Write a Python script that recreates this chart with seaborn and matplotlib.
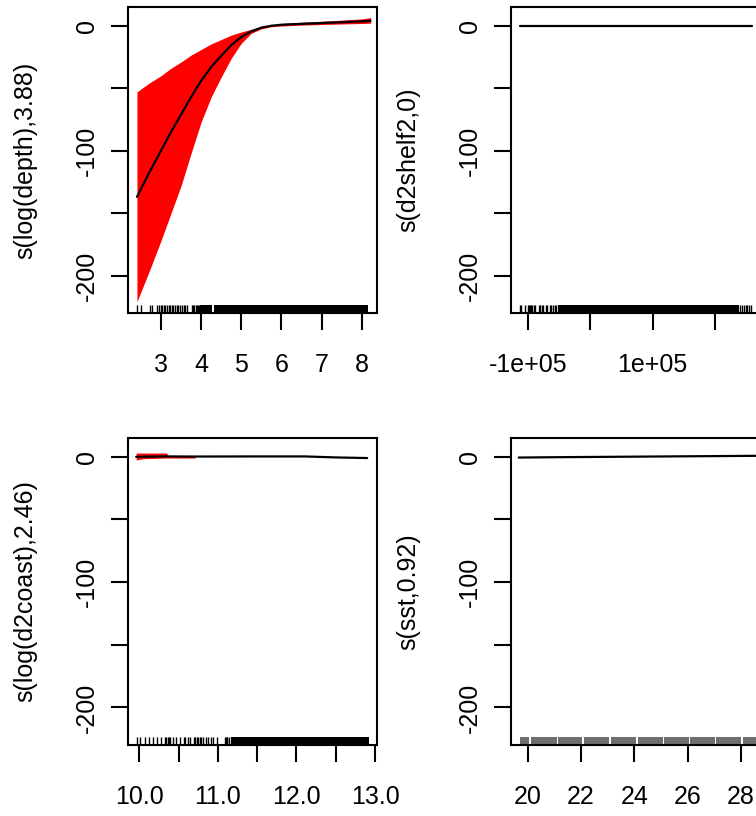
import matplotlib
matplotlib.use("Agg")
import matplotlib.pyplot as plt
import seaborn as sns

# ---------------------------
# Configuration
# ---------------------------
sns.set_theme(style="white")
plt.rcParams["font.family"] = ["Liberation Sans", "DejaVu Sans"]

FIG_W, FIG_H = 756, 816
FONT = 18
RUG_H = 0.027

# ---------------------------
# Data
# ---------------------------
# s(log(depth), 3.88)
depth_x = [2.40, 2.70, 3.00, 3.25, 3.50, 3.75, 4.00, 4.25, 4.50, 4.75,
           5.00, 5.25, 5.50, 5.75, 6.00, 6.50, 7.00, 7.50, 8.00, 8.22]
depth_fit = [-137, -118, -100, -85, -71, -57, -44, -33, -24, -15.5,
             -9, -4.5, -1.5, 0.0, 0.8, 1.5, 2.2, 2.8, 3.5, 4.0]
depth_upper = [-53, -46, -40, -34, -29, -23.5, -19, -14.5, -11, -7.5,
               -5, -2.8, -0.8, 0.8, 1.8, 2.8, 3.5, 4.5, 5.5, 6.5]
depth_lower = [-221, -197, -172, -150, -128, -102, -77, -57, -41, -26,
               -14, -6, -2.5, -0.8, -0.2, 0.5, 1.0, 1.4, 1.8, 2.0]
depth_rug = [2.41, 2.49, 2.73, 2.78, 2.90, 2.95, 2.99, 3.03, 3.07, 3.11, 3.15,
             3.19, 3.23, 3.27, 3.31, 3.35, 3.39, 3.43, 3.47, 3.51, 3.56, 3.60,
             3.64, 3.77, 3.80, 3.83, 3.86, 3.89, 3.92, 3.95]
depth_rug_solid = [(3.98, 4.28), (4.31, 8.16)]

# s(d2shelf2, 0)
shelf_x = [-1.13e5, 2.60e5]
shelf_fit = [0.0, 0.0]
shelf_rug = [-1.117e5, -1.101e5, -1.048e5, -0.995e5, -0.979e5, -0.957e5,
             -0.941e5, -0.925e5, -0.904e5, -0.888e5, -0.819e5, -0.797e5,
             -0.776e5, -0.755e5, -0.712e5, -0.691e5, -0.648e5, -0.621e5,
             -0.595e5, -0.568e5, -0.541e5, 2.40e5, 2.43e5, 2.47e5, 2.49e5,
             2.52e5, 2.55e5, 2.58e5]
shelf_rug_solid = [(-0.52e5, 2.38e5)]

# s(log(d2coast), 2.46)
coast_x = [9.96, 10.35, 10.71, 11.50, 12.10, 12.50, 12.90]
coast_fit = [0.0, 0.3, 0.2, 0.3, 0.3, -0.5, -1.0]
coast_band_x = [9.96, 10.05, 10.35, 10.36, 10.71]
coast_upper = [3.0, 3.0, 3.0, 1.0, 1.0]
coast_lower = [-2.5, -1.5, -1.0, -1.0, -1.0]
coast_rug = [9.969, 10.012, 10.067, 10.122, 10.173, 10.224, 10.280, 10.331,
             10.345, 10.360, 10.373, 10.386, 10.429, 10.472, 10.514, 10.565,
             10.587, 10.620, 10.651, 10.69, 10.71, 10.73, 10.75, 10.77, 10.79,
             10.81, 10.846, 10.876, 10.906, 10.939, 10.983, 11.09, 11.10,
             11.11, 11.12, 11.144]
coast_rug_solid = [(11.165, 12.92)]

# s(sst, 0.92)
sst_x = [19.66, 21.20, 28.70]
sst_fit = [-0.6, -0.3, 0.8]
sst_rug_bands = [(19.70, 20.05), (20.12, 21.08), (21.13, 22.05), (22.10, 23.06),
                 (23.11, 24.07), (24.12, 25.07), (25.12, 26.03), (26.08, 27.01),
                 (27.06, 28.01), (28.06, 28.75)]

y_ticks = [-200, -150, -100, -50, 0]
y_labels = ["-200", "", "-100", "", "0"]
y_lim = (-230, 15)

# ---------------------------
# Figure
# ---------------------------
fig = plt.figure(figsize=(FIG_W / 100, FIG_H / 100), dpi=100)
fig.patch.set_facecolor("white")


def add_panel(left, top, right, bottom):
    return fig.add_axes([left / FIG_W, 1 - bottom / FIG_H,
                         (right - left) / FIG_W, (bottom - top) / FIG_H])


def style_panel(ax, ylabel, xlim, xticks, xlabels):
    ax.set_xlim(*xlim)
    ax.set_ylim(*y_lim)
    ax.set_xticks(xticks)
    ax.set_xticklabels(xlabels)
    ax.set_yticks(y_ticks)
    ax.set_yticklabels(y_labels, rotation=90, va="center")
    ax.tick_params(axis="both", direction="out", length=12, width=1.5,
                   colors="black", labelsize=FONT, bottom=True, left=True)
    ax.tick_params(axis="x", pad=17)
    ax.tick_params(axis="y", pad=9)
    for sp in ax.spines.values():
        sp.set_color("black")
        sp.set_linewidth(1.5)
    ax.set_xlabel("")
    ax.set_ylabel(ylabel, fontsize=FONT, color="black")
    ax.yaxis.set_label_coords(-103 / 249, 0.5)
    ax.yaxis.label.set_va("center")
    ax.grid(False)


def draw_rug(ax, values, solid, color="black"):
    if values:
        sns.rugplot(x=values, ax=ax, height=RUG_H, color=color, lw=1,
                    expand_margins=False)
    for lo, hi in solid:
        ax.axvspan(lo, hi, ymin=0, ymax=RUG_H, color=color, lw=0)


# Panel 1: depth
ax1 = add_panel(128, 7, 377, 313)
ax1.fill_between(depth_x, depth_lower, depth_upper, color="#FF0000", lw=0)
sns.lineplot(x=depth_x, y=depth_fit, ax=ax1, color="black", lw=1.6,
             estimator=None, sort=False)
draw_rug(ax1, depth_rug, depth_rug_solid)
style_panel(ax1, "s(log(depth),3.88)", (2.177, 8.38),
            [3, 4, 5, 6, 7, 8], ["3", "4", "5", "6", "7", "8"])

# Panel 2: d2shelf2
ax2 = add_panel(511, 7, 760, 313)
sns.lineplot(x=shelf_x, y=shelf_fit, ax=ax2, color="black", lw=1.6,
             estimator=None, sort=False)
draw_rug(ax2, shelf_rug, shelf_rug_solid)
style_panel(ax2, "s(d2shelf2,0)", (-1.268e5, 2.721e5),
            [-1e5, 0, 1e5, 2e5], ["-1e+05", "", "1e+05", ""])

# Panel 3: d2coast
ax3 = add_panel(128, 438, 377, 745)
ax3.fill_between(coast_band_x, coast_lower, coast_upper, color="#FF0000", lw=0)
sns.lineplot(x=coast_x, y=coast_fit, ax=ax3, color="black", lw=1.6,
             estimator=None, sort=False)
draw_rug(ax3, coast_rug, coast_rug_solid)
style_panel(ax3, "s(log(d2coast),2.46)", (9.856, 13.025),
            [10.0, 10.5, 11.0, 11.5, 12.0, 12.5, 13.0],
            ["10.0", "", "11.0", "", "12.0", "", "13.0"])

# Panel 4: sst
ax4 = add_panel(511, 438, 760, 745)
sns.lineplot(x=sst_x, y=sst_fit, ax=ax4, color="black", lw=1.6,
             estimator=None, sort=False)
draw_rug(ax4, [], sst_rug_bands, color="#6e6e6e")
style_panel(ax4, "s(sst,0.92)", (19.37, 28.71),
            [20, 22, 24, 26, 28], ["20", "22", "24", "26", "28"])

fig.savefig("out.png", dpi=100, facecolor="white")
